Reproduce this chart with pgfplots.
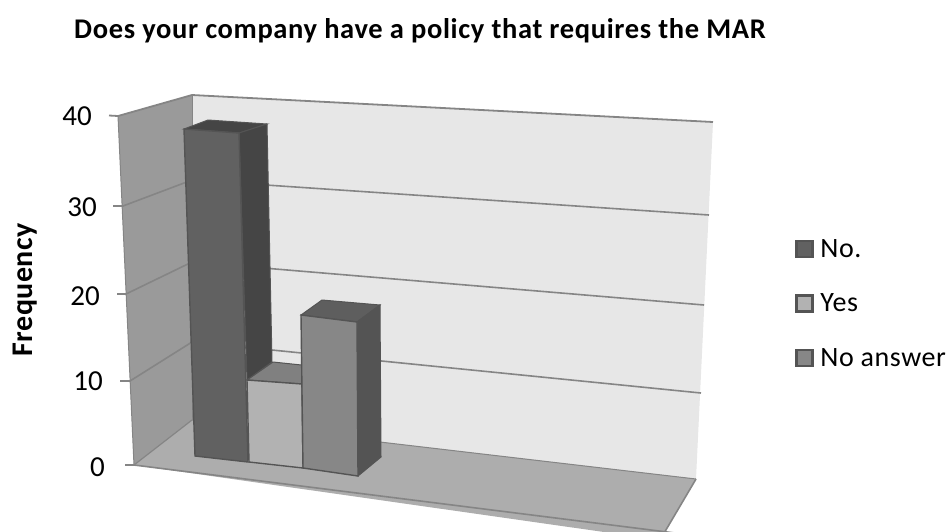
\documentclass[border=0pt]{standalone}
\usepackage{pgfplots}
\pgfplotsset{compat=1.18}
\usepackage{fontspec}
\setmainfont{Carlito}
\newcommand{\legendfont}{\fontsize{28}{28}\addfontfeatures{LetterSpace=2}\selectfont}
\newcommand{\scalefont}{\fontsize{29}{29}\selectfont}
\newcommand{\titlefont}{\bfseries\fontsize{28.5}{28.5}\addfontfeatures{LetterSpace=2.3}\selectfont}
\newcommand{\ylabelfont}{\bfseries\fontsize{30}{30}\addfontfeatures{LetterSpace=1.5}\selectfont}
\definecolor{wallback}{HTML}{E7E7E7}
\definecolor{wallside}{HTML}{9A9A9A}
\definecolor{floorc}{HTML}{ADADAD}
\definecolor{gridc}{HTML}{858585}
\definecolor{edgec}{HTML}{545454}
\begin{document}
\begin{tikzpicture}
\useasboundingbox (0,0) rectangle (949pt,531pt);
\begin{axis}[
  scale only axis, width=949pt, height=531pt, at={(0,0)}, anchor=south west,
  xmin=0, xmax=949, ymin=0, ymax=531, y dir=reverse,
  axis lines=none, clip=true,
  legend style={at={(axis cs:795,237)}, anchor=north west, draw=none, fill=none,
    font=\legendfont, row sep=31pt, inner sep=0pt,
    cells={anchor=west}},
  legend image code/.code={
    \draw[#1, line width=2.4pt, draw=edgec] (0pt,-8pt) rectangle (16pt,8pt);
    \path[draw=none, fill=none] (0pt,0pt) -- (22pt,0pt);
  },
]
% chart walls and floor
\addplot[forget plot, fill=wallback, draw=none] coordinates {(192,95)(713,122)(696,479)(192,420)} -- cycle;
\addplot[forget plot, fill=wallside, draw=none] coordinates {(118,116)(192,95)(192,420)(134,465)} -- cycle;
\addplot[forget plot, fill=floorc, draw=none] coordinates {(134,465)(192,420)(696,479)(660,540)} -- cycle;
\addplot[forget plot, gridc, line width=1pt] coordinates {(118,116)(134,465)};
\addplot[forget plot, gridc, line width=1pt] coordinates {(192,95)(192,420)};
\addplot[forget plot, gridc, line width=1pt] coordinates {(192,420)(696,479)};
\addplot[forget plot, gridc, line width=1.2pt] coordinates {(134,465)(192,420)};
\addplot[forget plot, gridc, line width=1.6pt] coordinates {(696,479)(660,540)};
\addplot[forget plot, gridc, line width=1.6pt] coordinates {(134,465)(675,533)};
% gridlines for 40, 30, 20, 10 and 0, with their tick stubs
\addplot[forget plot, gridc, line width=1.8pt] coordinates {(109,115.5)(118,116)(192,95)(713,122)};
\addplot[forget plot, gridc, line width=1.6pt] coordinates {(113,206)(123,206)(192,180)(709,215)};
\addplot[forget plot, gridc, line width=1.6pt] coordinates {(117,294)(126,294)(192,262)(704,305)};
\addplot[forget plot, gridc, line width=1.6pt] coordinates {(120,381)(130,381)(192,342)(701,393)};
\addplot[forget plot, gridc, line width=1.8pt] coordinates {(125,465)(134,465)};
% bar "No.": frequency 38
\addplot[forget plot, fill=black!73, draw=edgec, line width=1pt] coordinates {(184,129)(208,120)(267,124)(239,133)} -- cycle;
\addplot[forget plot, fill=black!73, draw=edgec, line width=1pt] coordinates {(239,133)(267,124)(272,362)(247,380)} -- cycle;
\addplot[fill=black!62, draw=edgec, line width=1.4pt] coordinates {(184,129)(239,133)(248,462)(195,456)} -- cycle;
\addlegendentry{No.}
% bar "Yes": frequency 10
\addplot[forget plot, fill=black!50, draw=edgec, line width=1pt] coordinates {(247,380)(273,362)(330,368)(302,384)} -- cycle;
\addplot[fill=black!30, draw=edgec, line width=1.4pt] coordinates {(247,380)(302,384)(303,468)(249,462)} -- cycle;
\addlegendentry{Yes}
% bar "No answer": frequency 17
\addplot[forget plot, fill=black!63, draw=edgec, line width=1pt] coordinates {(301,315)(322,300)(380,305)(357,322)} -- cycle;
\addplot[forget plot, fill=black!67, draw=edgec, line width=1pt] coordinates {(357,322)(380,305)(381,457)(358,476)} -- cycle;
\addplot[fill=black!47, draw=edgec, line width=1.4pt] coordinates {(301,315)(357,322)(358,476)(303,468)} -- cycle;
\addlegendentry{No answer}
% value scale and titles
\node[anchor=east, inner sep=0pt, font=\scalefont] at (axis cs:92,116) {40};
\node[anchor=east, inner sep=0pt, font=\scalefont] at (axis cs:97,207) {30};
\node[anchor=east, inner sep=0pt, font=\scalefont] at (axis cs:100,296) {20};
\node[anchor=east, inner sep=0pt, font=\scalefont] at (axis cs:103,381) {10};
\node[anchor=east, inner sep=0pt, font=\scalefont] at (axis cs:105,467) {0};
\node[rotate=90, font=\ylabelfont] at (axis cs:25,290) {Frequency};
\node[font=\titlefont] at (axis cs:420,31) {Does your company have a policy that requires the MAR};
\end{axis}
\end{tikzpicture}
\end{document}
